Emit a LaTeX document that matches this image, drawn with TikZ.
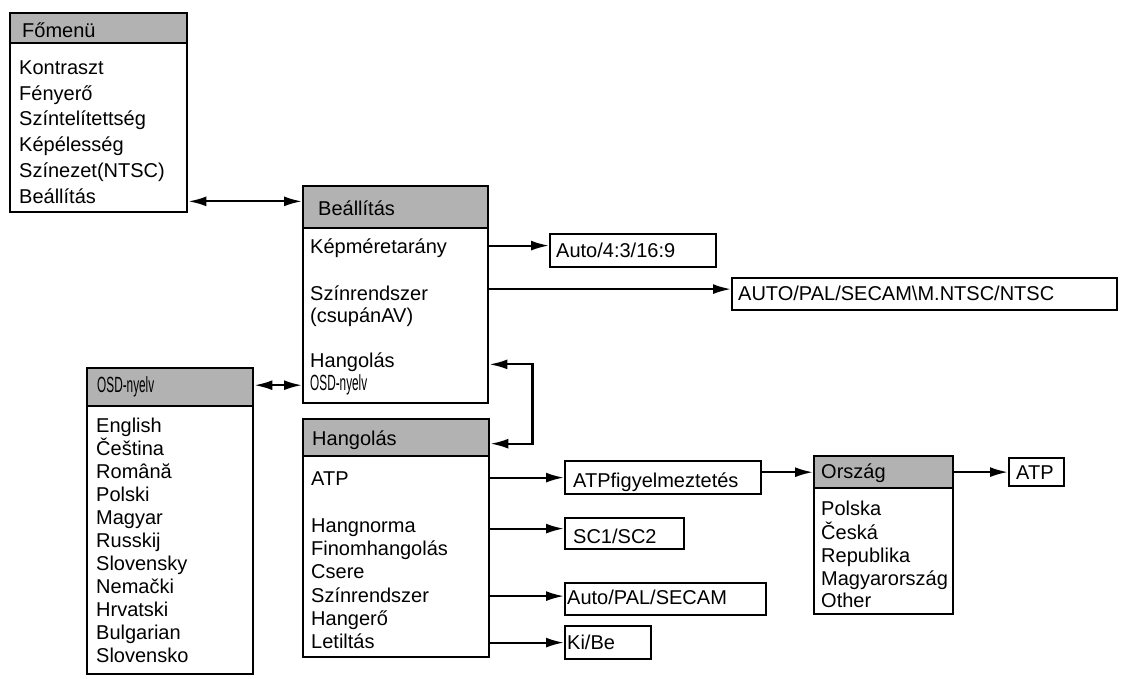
\documentclass[tikz,border=0pt]{standalone}
\usepackage{fontspec}
\usepackage{graphicx}
\setmainfont{Liberation Sans}
\usetikzlibrary{arrows.meta}
\begin{document}
\begin{tikzpicture}[x=1pt,y=-1pt,
 menubox/.style={draw, line width=2.4pt, anchor=north west, inner sep=0pt, fill=white},
 hdr/.style={draw, line width=2.4pt, anchor=north west, inner sep=0pt, fill=black!30},
 valbox/.style={draw, line width=2.2pt, anchor=north west, inner sep=0pt},
 txt/.style={anchor=base west, inner sep=0pt, font=\fontsize{20}{24}\selectfont},
 arr/.style={line width=2.2pt, -{Latex[length=18pt,width=10pt]}},
 both/.style={line width=2.2pt, {Latex[length=18pt,width=10pt]}-{Latex[length=18pt,width=10pt]}}]
\useasboundingbox[fill=white] (0,0) rectangle (1123,679);

% Fomenu
\node[menubox, minimum width=177pt, minimum height=199pt] (fomenu) at (9,12) {};
\node[hdr, minimum width=177pt, minimum height=30pt] (fomenuh) at (9,12) {};
\node[txt] (fomenut) at (22,38) {Főmenü};
\foreach \t/\y [count=\i] in {Kontraszt/75, Fényerő/101, Színtelítettség/126, Képélesség/152, {Színezet(NTSC)}/178, Beállítás/204}
  {\node[txt] (fm\i) at (19,\y) {\t};}

% Beallitas
\node[menubox, minimum width=185pt, minimum height=217pt] (beall) at (302,185) {};
\node[hdr, minimum width=185pt, minimum height=42pt] (beallh) at (302,185) {};
\node[txt] (beallt) at (318,215) {Beállítás};
\node[txt] (bi1) at (310,253) {Képméretarány};
\node[txt] (bi2) at (310,300) {Színrendszer};
\node[txt] (bi3) at (310,322) {(csupánAV)};
\node[txt] (bi4) at (310,367) {Hangolás};
\node[txt] (bi5) at (310,390) {\scalebox{0.59}[1.1]{OSD-nyelv}};

% OSD-nyelv
\node[menubox, minimum width=166pt, minimum height=306pt] (osd) at (86,367) {};
\node[hdr, minimum width=166pt, minimum height=38pt] (osdh) at (86,367) {};
\node[txt] (osdt) at (97,392) {\scalebox{0.59}[1.1]{OSD-nyelv}};
\foreach \t/\y [count=\i] in {English/432, Čeština/455, Română/478, Polski/501, Magyar/524, Russkij/547, Slovensky/570, Nemački/593, Hrvatski/616, Bulgarian/639, Slovensko/662}
  {\node[txt] (os\i) at (96,\y) {\t};}

% Hangolas
\node[menubox, minimum width=186pt, minimum height=238pt] (hang) at (302,418) {};
\node[hdr, minimum width=186pt, minimum height=37pt] (hangh) at (302,418) {};
\node[txt] (hangt) at (312,445) {Hangolás};
\foreach \t/\y [count=\i] in {ATP/485, Hangnorma/532, Finomhangolás/555, Csere/578, Színrendszer/602, Hangerő/625, Letiltás/648}
  {\node[txt] (hi\i) at (311,\y) {\t};}

% Orszag
\node[menubox, minimum width=139pt, minimum height=158pt] (orszag) at (813,455) {};
\node[hdr, minimum width=139pt, minimum height=32pt] (orszagh) at (813,455) {};
\node[txt] (orszagt) at (821,478) {Ország};
\foreach \t/\y [count=\i] in {Polska/515, Česká/539, Republika/562, Magyarország/585, Other/607}
  {\node[txt] (or\i) at (821,\y) {\t};}

% value boxes
\node[valbox, minimum width=166pt, minimum height=33pt] (auto43) at (549,233) {};
\node[txt] (auto43t) at (556,257) {Auto/4:3/16:9};
\node[valbox, minimum width=385pt, minimum height=32pt] (autopal) at (731,277) {};
\node[txt] (autopalt) at (738,300) {AUTO/PAL/SECAM\textbackslash M.NTSC/NTSC};
\node[valbox, minimum width=196pt, minimum height=33pt] (atpfig) at (564,460) {};
\node[txt] (atpfigt) at (573,487) {ATPfigyelmeztetés};
\node[valbox, minimum width=119pt, minimum height=31pt] (sc) at (564,517) {};
\node[txt] (sct) at (573,543) {SC1/SC2};
\node[valbox, minimum width=201pt, minimum height=32pt] (aps) at (564,582) {};
\node[txt] (apst) at (567,604) {Auto/PAL/SECAM};
\node[valbox, minimum width=86pt, minimum height=33pt] (kibe) at (564,625) {};
\node[txt] (kibet) at (567,649) {Ki/Be};
\node[valbox, minimum width=55pt, minimum height=28pt] (atp) at (1008,457) {};
\node[txt] (atpt) at (1016,479) {ATP};

% connectors
\draw[both] (fomenu.east |- fm6.mid) -- (beall.west |- fm6.mid);
\draw[both] ([yshift=2pt]osdh.east) -- ([yshift=2pt]osdh.east -| beall.west);
\draw[both] (beall.east |- bi4.mid) -- ++(43,0) |- ([yshift=-6pt]hangh.east);

\coordinate (c1) at ([yshift=5pt]auto43.west);
\draw[arr] (beall.east |- c1) -- (c1);
\coordinate (c2) at ([yshift=5pt]autopal.west);
\draw[arr] (beall.east |- c2) -- (c2);
\draw[arr] (hang.east |- atpfig.west) -- (atpfig.west);
\coordinate (c3) at ([yshift=5pt]sc.west);
\draw[arr] (hang.east |- c3) -- (c3);
\coordinate (c4) at ([yshift=3pt]aps.west);
\draw[arr] (hang.east |- c4) -- (c4);
\draw[arr] (hang.east |- kibe.west) -- (kibe.west);
\draw[arr] (atpfig.east |- orszagh.west) -- (orszagh.west);
\draw[arr] (orszagh.east |- atp.west) -- (atp.west);
\end{tikzpicture}
\end{document}
